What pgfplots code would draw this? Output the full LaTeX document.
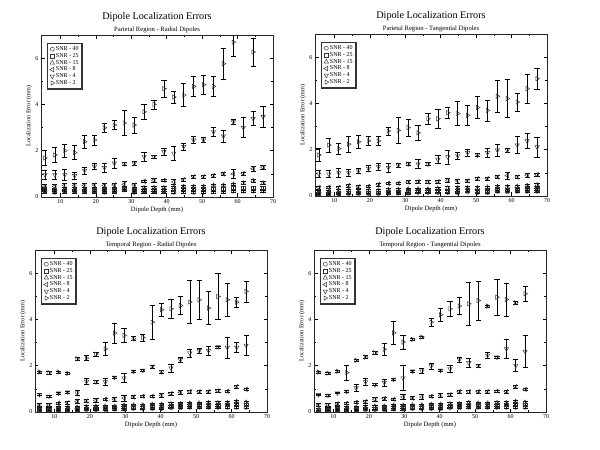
\documentclass[border=0pt]{standalone}
\usepackage{pgfplots}
\pgfplotsset{compat=1.18}
\usepackage{pgfplotstable}
\usepackage{fontspec}
\setmainfont{Liberation Serif}

% columns: x | SNR40 a ea | SNR25 b eb | SNR15 c ec | SNR8 d ed | SNR4 f ef | SNR2 g eg
\pgfplotstableread{
x a ea b eb c ec d ed f ef g eg
5.6 0.22 0.04 0.28 0.05 0.35 0.06 0.45 0.08 0.96 0.19 1.69 0.34
8.4 0.20 0.04 0.28 0.05 0.33 0.06 0.45 0.08 0.96 0.20 1.82 0.33
11.2 0.22 0.04 0.30 0.05 0.35 0.06 0.50 0.10 0.96 0.25 2.00 0.27
14.0 0.22 0.04 0.28 0.05 0.35 0.06 0.50 0.08 0.92 0.14 1.92 0.30
16.8 0.22 0.04 0.30 0.05 0.35 0.06 0.50 0.08 1.15 0.15 2.39 0.28
19.6 0.22 0.04 0.30 0.05 0.38 0.06 0.52 0.08 1.32 0.12 2.46 0.21
22.4 0.20 0.04 0.28 0.05 0.35 0.06 0.50 0.08 1.27 0.20 2.99 0.18
25.2 0.22 0.04 0.30 0.05 0.38 0.06 0.52 0.08 1.46 0.22 3.11 0.20
28.0 0.30 0.05 0.35 0.05 0.40 0.06 0.55 0.12 1.43 0.08 3.20 0.54
30.8 0.20 0.04 0.30 0.05 0.35 0.06 0.52 0.08 1.46 0.07 3.11 0.34
33.6 0.22 0.04 0.30 0.05 0.40 0.06 0.68 0.06 1.75 0.20 3.68 0.32
36.4 0.22 0.04 0.30 0.05 0.40 0.06 0.72 0.10 1.75 0.07 4.00 0.20
39.2 0.22 0.04 0.30 0.05 0.40 0.06 0.72 0.06 1.96 0.15 4.68 0.37
42.0 0.20 0.04 0.32 0.05 0.42 0.06 0.65 0.10 1.89 0.30 4.32 0.25
44.8 0.22 0.04 0.35 0.05 0.45 0.06 0.75 0.08 2.18 0.14 4.40 0.50
47.6 0.20 0.04 0.35 0.05 0.45 0.06 0.88 0.06 2.46 0.16 4.78 0.44
50.4 0.20 0.04 0.35 0.05 0.45 0.06 0.88 0.06 2.46 0.10 4.85 0.43
53.2 0.22 0.04 0.35 0.05 0.50 0.06 0.93 0.06 2.82 0.20 4.78 0.44
56.0 0.22 0.04 0.35 0.05 0.50 0.06 1.00 0.08 2.63 0.27 5.76 0.68
58.8 0.25 0.05 0.40 0.06 0.55 0.06 1.00 0.18 3.25 0.10 6.69 0.60
61.6 0.25 0.05 0.40 0.06 0.60 0.06 1.02 0.06 3.00 0.43 nan nan
64.4 0.25 0.05 0.40 0.06 0.70 0.06 1.22 0.10 3.39 0.30 6.26 0.60
67.2 0.25 0.05 0.40 0.06 0.60 0.06 1.28 0.10 3.47 0.46 nan nan
}\tabPR

\pgfplotstableread{
x a ea b eb c ec d ed f ef g eg
5.6 0.08 0.03 0.12 0.04 0.20 0.05 0.37 0.06 0.95 0.14 1.77 0.29
8.4 0.08 0.03 0.12 0.04 0.20 0.05 0.38 0.06 0.95 0.16 2.20 0.29
11.2 0.10 0.03 0.13 0.04 0.22 0.05 0.37 0.06 1.00 0.20 2.05 0.23
14.0 0.10 0.03 0.15 0.04 0.25 0.05 0.45 0.06 1.00 0.14 2.24 0.33
16.8 0.10 0.03 0.15 0.04 0.22 0.05 0.40 0.06 1.09 0.12 2.34 0.29
19.6 0.10 0.03 0.15 0.04 0.25 0.05 0.42 0.06 1.19 0.14 2.38 0.20
22.4 0.10 0.03 0.15 0.04 0.25 0.05 0.50 0.06 1.26 0.14 2.38 0.20
25.2 0.12 0.03 0.18 0.04 0.28 0.05 0.55 0.06 1.23 0.19 2.81 0.18
28.0 0.12 0.03 0.18 0.04 0.28 0.05 0.55 0.06 1.33 0.07 2.84 0.55
30.8 0.12 0.03 0.20 0.04 0.30 0.05 0.60 0.06 1.38 0.06 2.96 0.37
33.6 0.15 0.03 0.20 0.04 0.30 0.05 0.62 0.08 1.38 0.19 2.73 0.34
36.4 0.15 0.03 0.20 0.04 0.30 0.05 0.60 0.06 1.38 0.07 3.34 0.23
39.2 0.15 0.03 0.20 0.04 0.32 0.05 0.62 0.06 1.58 0.18 3.34 0.40
42.0 0.15 0.03 0.22 0.04 0.35 0.05 0.68 0.10 1.69 0.30 3.60 0.25
44.8 0.15 0.03 0.25 0.04 0.35 0.05 0.65 0.08 1.74 0.16 3.56 0.52
47.6 0.18 0.03 0.25 0.04 0.35 0.05 0.65 0.06 1.87 0.17 3.49 0.45
50.4 0.15 0.03 0.22 0.04 0.35 0.05 0.75 0.06 1.77 0.07 3.82 0.47
53.2 0.15 0.03 0.22 0.04 0.38 0.05 0.75 0.06 1.87 0.18 3.70 0.45
56.0 0.20 0.03 0.28 0.04 0.40 0.05 0.82 0.06 1.98 0.27 4.31 0.70
58.8 0.18 0.03 0.25 0.04 0.40 0.05 0.88 0.14 1.98 0.09 4.21 0.82
61.6 0.20 0.03 0.28 0.04 0.42 0.05 0.82 0.06 2.20 0.37 4.06 0.38
64.4 0.20 0.03 0.30 0.04 0.45 0.05 0.90 0.08 2.38 0.33 4.64 0.63
67.2 0.20 0.03 0.30 0.04 0.48 0.05 0.92 0.08 2.12 0.43 5.07 0.47
}\tabPT

\pgfplotstableread{
x a ea b eb c ec d ed f ef g eg
5.8 0.05 0.03 0.10 0.04 0.15 0.05 0.30 0.06 0.75 0.04 1.73 0.05
8.45 0.05 0.03 0.10 0.04 0.15 0.05 0.30 0.06 0.68 0.04 1.70 0.05
11.1 0.06 0.03 0.12 0.04 0.18 0.05 0.38 0.06 0.82 0.04 1.73 0.04
13.75 0.08 0.03 0.13 0.04 0.20 0.05 0.40 0.06 0.86 0.04 1.67 0.05
16.4 0.08 0.03 0.12 0.04 0.20 0.05 0.45 0.08 0.82 0.10 2.30 0.06
19.05 0.10 0.03 0.15 0.04 0.22 0.05 0.48 0.06 1.32 0.14 2.33 0.10
21.7 0.10 0.03 0.18 0.04 0.25 0.05 0.50 0.10 1.30 0.05 2.50 0.08
24.35 0.10 0.03 0.18 0.04 0.25 0.05 0.55 0.06 1.30 0.14 2.73 0.27
27.0 0.12 0.03 0.20 0.04 0.25 0.05 0.55 0.08 1.50 0.05 3.41 0.42
29.65 0.12 0.03 0.20 0.04 0.28 0.05 0.60 0.14 1.47 0.20 3.31 0.30
32.3 0.15 0.03 0.22 0.04 0.30 0.05 0.65 0.06 1.76 0.04 3.17 0.09
34.95 0.15 0.03 0.22 0.04 0.30 0.05 0.68 0.06 1.80 0.06 3.22 0.16
37.6 0.15 0.03 0.25 0.04 0.32 0.05 0.68 0.06 1.97 0.06 3.88 0.72
40.25 0.15 0.03 0.25 0.04 0.32 0.05 0.72 0.10 1.73 0.06 4.42 0.27
42.9 0.18 0.03 0.25 0.04 0.35 0.05 0.80 0.06 1.90 0.18 4.46 0.39
45.55 0.18 0.03 0.28 0.04 0.35 0.05 0.85 0.10 2.26 0.10 4.60 0.38
48.2 0.20 0.03 0.30 0.04 0.38 0.05 0.88 0.06 2.55 0.18 4.75 0.93
50.85 0.20 0.03 0.30 0.04 0.38 0.05 0.88 0.06 2.65 0.10 4.85 0.84
53.5 0.20 0.03 0.30 0.04 0.40 0.05 0.88 0.06 2.65 0.19 4.49 0.72
56.15 0.20 0.03 0.30 0.04 0.40 0.05 0.92 0.06 2.81 0.05 4.99 1.00
58.8 0.20 0.03 0.32 0.04 0.40 0.05 0.90 0.06 2.79 0.45 4.85 0.70
61.45 0.20 0.03 0.35 0.04 0.45 0.05 1.10 0.06 2.79 0.23 4.75 0.22
64.1 0.20 0.03 0.32 0.04 0.42 0.05 0.98 0.06 2.88 0.43 5.21 0.46
}\tabTR

\pgfplotstableread{
x a ea b eb c ec d ed f ef g eg
5.8 0.05 0.03 0.10 0.04 0.12 0.05 0.30 0.06 0.75 0.03 1.73 0.04
8.45 0.05 0.03 0.10 0.04 0.15 0.05 0.30 0.06 0.72 0.03 1.68 0.04
11.1 0.06 0.03 0.12 0.04 0.18 0.05 0.35 0.06 0.82 0.03 1.76 0.04
13.75 0.08 0.03 0.12 0.04 0.20 0.05 0.38 0.06 0.89 0.03 1.70 0.33
16.4 0.08 0.03 0.13 0.04 0.20 0.05 0.42 0.06 1.04 0.14 2.23 0.05
19.05 0.10 0.03 0.15 0.04 0.22 0.05 0.45 0.06 1.30 0.14 2.37 0.06
21.7 0.10 0.03 0.15 0.04 0.25 0.05 0.55 0.08 1.18 0.04 2.56 0.06
24.35 0.10 0.03 0.18 0.04 0.25 0.05 0.58 0.06 1.27 0.14 2.71 0.28
27.0 0.12 0.03 0.20 0.04 0.28 0.05 0.55 0.06 1.41 0.05 3.42 0.48
29.65 0.12 0.03 0.20 0.04 0.28 0.05 0.65 0.10 1.47 0.55 3.02 0.30
32.3 0.15 0.03 0.22 0.04 0.30 0.05 0.60 0.06 1.77 0.04 3.14 0.05
34.95 0.15 0.03 0.22 0.04 0.30 0.05 0.65 0.10 1.77 0.10 3.24 0.04
37.6 0.15 0.03 0.25 0.04 0.32 0.05 0.68 0.06 1.99 0.13 3.88 0.17
40.25 0.15 0.03 0.25 0.04 0.32 0.05 0.72 0.10 1.80 0.04 4.20 0.28
42.9 0.18 0.03 0.25 0.04 0.35 0.05 0.75 0.06 1.87 0.16 4.46 0.32
45.55 0.18 0.03 0.28 0.04 0.35 0.05 0.88 0.06 2.27 0.11 4.58 0.36
48.2 0.20 0.03 0.30 0.04 0.40 0.05 0.88 0.06 2.13 0.19 4.68 0.92
50.85 0.20 0.03 0.30 0.04 0.38 0.05 0.88 0.06 2.01 0.07 4.82 0.84
53.5 0.20 0.03 0.30 0.04 0.38 0.05 0.88 0.06 2.45 0.14 4.58 0.05
56.15 0.20 0.03 0.30 0.04 0.40 0.05 0.90 0.06 2.37 0.05 4.96 0.78
58.8 0.20 0.03 0.32 0.04 0.40 0.05 0.88 0.06 2.73 0.43 4.86 0.72
61.45 0.20 0.03 0.35 0.04 0.45 0.05 1.10 0.06 2.01 0.25 4.72 0.06
64.1 0.20 0.03 0.32 0.04 0.42 0.05 0.98 0.06 2.62 0.68 5.11 0.32
}\tabTT

\pgfplotsset{
  dip/.style={
    scale only axis, width=232pt, height=162pt,
    xmin=4.5, xmax=70, ymin=0, ymax=7,
    xtick={10,20,...,70}, ytick={0,2,4,6},
    minor x tick num=1, minor y tick num=1,
    tick align=inside,
    major tick length=3.5pt, minor tick length=2pt,
    tick style={black, line width=0.5pt},
    axis line style={black!85, line width=0.8pt},
    /pgf/number format/assume math mode=true,
    ticklabel style={font=\fontsize{6}{6.5}\selectfont},
    xticklabel style={yshift=1pt},
    yticklabel style={xshift=1pt},
    xlabel={Dipole Depth (mm)}, ylabel={Localization Error (mm)},
    xlabel style={font=\fontsize{6.6}{7}\selectfont, yshift=4pt},
    ylabel style={font=\fontsize{6.2}{7}\selectfont, yshift=-3pt},
    title style={align=center, yshift=-7pt},
    legend style={at={(0.026,0.952)}, anchor=north west, draw=black!80, line width=1.2pt,
      font=\fontsize{6}{6.5}\selectfont, row sep=-0.9pt, inner xsep=2.2pt, inner ysep=2pt,
      nodes={inner sep=1.1pt}},
    legend cell align=left,
  },
  eb/.style={only marks, black!80, line width=0.45pt,
    error bars/y dir=both, error bars/y explicit,
    error bars/error bar style={line width=0.55pt, black},
    error bars/error mark options={rotate=90, mark size=2.6pt, line width=0.55pt, black},
    legend image code/.code={\draw[mark repeat=2, mark phase=2] plot coordinates {(0pt,0pt) (6pt,0pt) (13pt,0pt)};}},
  m40/.style={eb, mark=o, mark size=2pt},
  m25/.style={eb, mark=square, mark size=1.8pt},
  m15/.style={eb, mark=triangle, mark size=2.5pt},
  m8/.style={eb, mark=triangle, mark size=2.5pt, mark options={rotate=90}},
  m4/.style={eb, mark=triangle, mark size=2.5pt, mark options={rotate=180}},
  m2/.style={eb, mark=triangle, mark size=2.5pt, mark options={rotate=270}},
}

\newcommand{\ttl}[1]{{\fontsize{10.2}{11}\selectfont Dipole Localization Errors}\\[0pt]{\fontsize{6.6}{7.5}\selectfont #1}}

\newcommand{\allseries}[1]{%
  \addplot[m40] table[x=x, y=a, y error=ea]{#1};
  \addplot[m25] table[x=x, y=b, y error=eb]{#1};
  \addplot[m15] table[x=x, y=c, y error=ec]{#1};
  \addplot[m8] table[x=x, y=d, y error=ed]{#1};
  \addplot[m4] table[x=x, y=f, y error=ef]{#1};
  \addplot[m2] table[x=x, y=g, y error=eg]{#1};
  \legend{SNR - 40, SNR - 25, SNR - 15, SNR - 8, SNR - 4, SNR - 2}
}

\begin{document}
\begin{tikzpicture}
\useasboundingbox (0pt,0pt) rectangle (600pt,450pt);

\begin{axis}[dip, at={(41pt,253pt)}, anchor=south west,
  title={\ttl{Parietal Region - Radial Dipoles}}]
\allseries{\tabPR}
\end{axis}

\begin{axis}[dip, at={(315pt,254pt)}, anchor=south west,
  title={\ttl{Parietal Region - Tangential Dipoles}}]
\allseries{\tabPT}
\end{axis}

\begin{axis}[dip, at={(35pt,38pt)}, anchor=south west,
  title={\ttl{Temporal Region - Radial Dipoles}}]
\allseries{\tabTR}
\end{axis}

\begin{axis}[dip, at={(314pt,38pt)}, anchor=south west,
  title={\ttl{Temporal Region - Tangential Dipoles}}]
\allseries{\tabTT}
\end{axis}
\end{tikzpicture}
\end{document}
